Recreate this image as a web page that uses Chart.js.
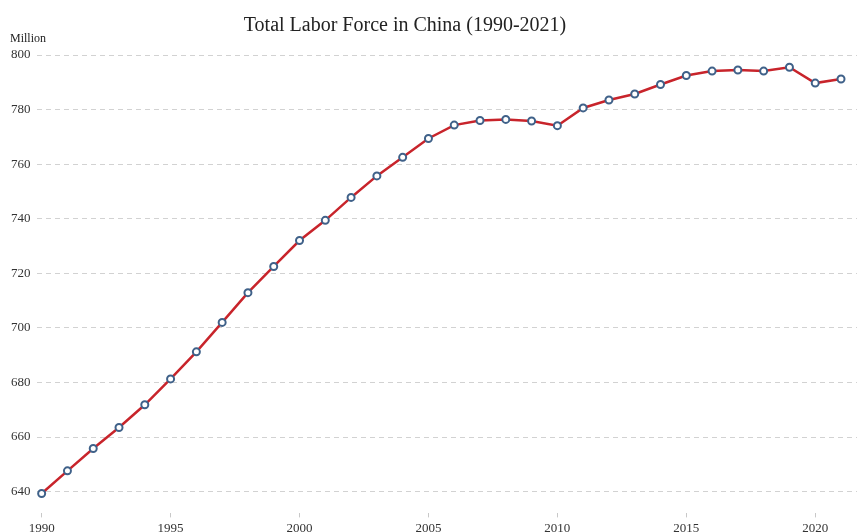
<!DOCTYPE html>
<html lang="en">
<head>
  <meta charset="UTF-8" />
  <title>Total Labor Force in China</title>
  <script src="https://cdn.jsdelivr.net/npm/chart.js"></script>
  <style>
    html, body { margin: 0; padding: 0; background: #fff; }
    #wrap { width: 857px; height: 532px; position: relative; }
  </style>
</head>
<body>
<div id="wrap">
  <canvas id="grafico"></canvas>
</div>

<script>
// data (million people)
const years = [1990, 1991, 1992, 1993, 1994, 1995, 1996, 1997, 1998, 1999,
               2000, 2001, 2002, 2003, 2004, 2005, 2006, 2007, 2008, 2009,
               2010, 2011, 2012, 2013, 2014, 2015, 2016, 2017, 2018, 2019,
               2020, 2021];
const labor = [639.3, 647.6, 655.8, 663.5, 671.8, 681.3, 691.2, 702.0, 712.9, 722.5,
               732.0, 739.4, 747.8, 755.7, 762.5, 769.4, 774.3, 776.0, 776.4, 775.8,
               774.1, 780.6, 783.5, 785.7, 789.2, 792.5, 794.1, 794.5, 794.1, 795.5,
               789.7, 791.2];
const xTicks = [1990, 1995, 2000, 2005, 2010, 2015, 2020];
const yTicks = [640, 660, 680, 700, 720, 740, 760, 780, 800];

const serif = '"Liberation Serif", "Times New Roman", serif';

// title and unit label drawn by hand
const textos = {
  id: 'textos',
  afterDraw(chart) {
    const ctx = chart.ctx;
    ctx.save();
    ctx.fillStyle = '#222';
    ctx.textAlign = 'center';
    ctx.textBaseline = 'alphabetic';
    ctx.font = '20px ' + serif;
    ctx.fillText('Total Labor Force in China (1990-2021)', 405, 31);
    ctx.textAlign = 'left';
    ctx.font = '12px ' + serif;
    ctx.fillText('Million', 10, 42);
    ctx.restore();
  }
};

new Chart(document.getElementById('grafico'), {
  type: 'line',
  data: {
    datasets: [{
      label: 'Labor force',
      data: years.map((y, i) => ({ x: y, y: labor[i] })),
      borderColor: '#c8242b',
      borderWidth: 2.5,
      pointBackgroundColor: '#ffffff',
      pointBorderColor: '#3f6189',
      pointBorderWidth: 2,
      pointRadius: 3.5,
      tension: 0,
      clip: false
    }]
  },
  options: {
    responsive: true,
    maintainAspectRatio: false,
    animation: false,
    layout: { autoPadding: false, padding: { top: 55, left: 5, right: 0, bottom: -7 } },
    plugins: {
      legend: { display: false },
      tooltip: { enabled: false },
      title: { display: false }
    },
    scales: {
      x: {
        type: 'linear',
        min: 1989.8,
        max: 2021.62,
        afterBuildTicks: s => { s.ticks = xTicks.map(v => ({ value: v })); },
        grid: {
          drawOnChartArea: false,
          drawTicks: true,
          tickLength: 4,
          color: '#c8c8c8'
        },
        border: { display: false },
        ticks: {
          color: '#333',
          font: { family: serif, size: 13 },
          padding: 3,
          maxRotation: 0,
          callback: v => String(v)
        }
      },
      y: {
        min: 632,
        max: 800,
        afterBuildTicks: s => { s.ticks = yTicks.map(v => ({ value: v })); },
        grid: {
          drawTicks: false,
          color: '#d2d2d2',
          lineWidth: 1
        },
        border: { display: false, dash: [5, 4] },
        ticks: {
          color: '#333',
          font: { family: serif, size: 13 },
          padding: 6
        }
      }
    }
  },
  plugins: [textos]
});
</script>
</body>
</html>
